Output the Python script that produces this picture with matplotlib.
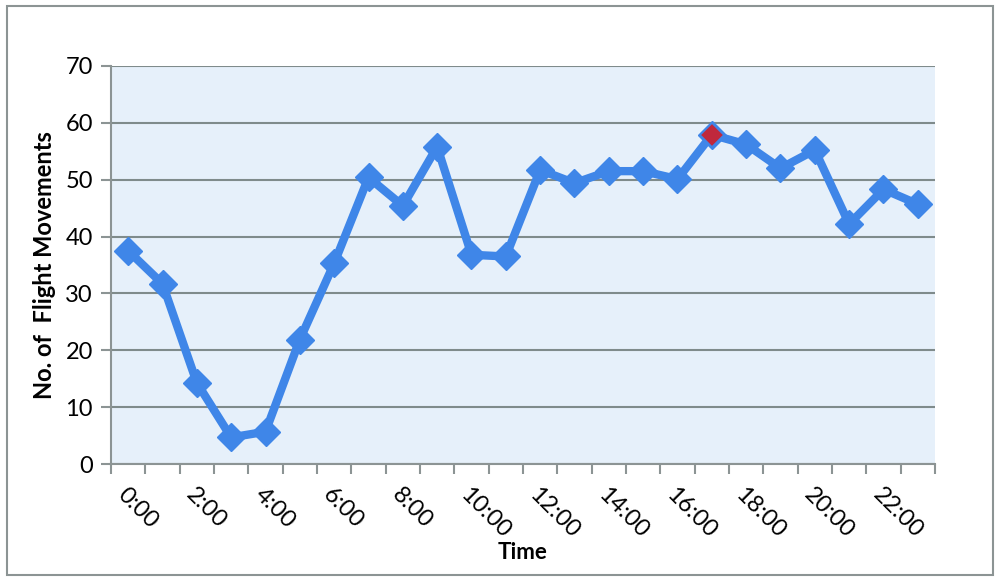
import numpy as np
import matplotlib.pyplot as plt
from matplotlib.patches import Rectangle

# Dados
hours = [f"{h}:00" for h in range(24)]
movements = [37.5, 31.7, 14.3, 4.7, 5.7, 21.9, 35.3, 50.4, 45.4, 55.8, 36.8, 36.5,
             51.7, 49.4, 51.5, 51.5, 50.1, 57.9, 56.2, 52.0, 55.2, 42.2, 48.3, 45.7]
peak_idx = 17
y_ticks = [0, 10, 20, 30, 40, 50, 60, 70]

plt.rcParams['font.family'] = ['Lato', 'DejaVu Sans']

fig = plt.figure(figsize=(10, 5.78), dpi=100)
fig.patches.append(Rectangle((0.007, 0.005), 0.986, 0.985, transform=fig.transFigure,
                             fill=False, edgecolor='#8c9494', linewidth=1.5))

ax = fig.add_axes([0.111, 0.197, 0.824, 0.689])
ax.set_facecolor('#e6f0fa')

x = np.arange(len(hours))
ax.plot(x, movements, color='#3f86e8', linewidth=6, marker='D', markersize=14,
        markerfacecolor='#3f86e8', markeredgecolor='#3f86e8', zorder=3)
ax.plot(x[peak_idx], movements[peak_idx], marker='D', markersize=12,
        markerfacecolor='#c0283c', markeredgecolor='#3f86e8', markeredgewidth=1.2, zorder=4)

ax.set_xlim(-0.5, len(hours) - 0.5)
ax.set_ylim(0, 70)
ax.set_yticks(y_ticks)
ax.set_yticklabels([str(v) for v in y_ticks], fontsize=17)

# marcas entre categorias, rótulos a cada 2 horas
ax.set_xticks(np.arange(-0.5, len(hours), 1), minor=True)
ax.set_xticks(x[::2])
ax.set_xticklabels(hours[::2], rotation=-45, ha='left', va='top',
                   rotation_mode='anchor', fontsize=17)
ax.tick_params(axis='x', which='major', length=0, pad=14)
ax.tick_params(axis='x', which='minor', length=7, color='#8c9494', width=1.5)
ax.tick_params(axis='y', length=7, color='#8c9494', width=1.5, pad=6)

ax.grid(True, axis='y', color='#7f8b8b', linewidth=1.5)
ax.set_axisbelow(True)
for s in ['top', 'right']:
    ax.spines[s].set_visible(False)
for s in ['left', 'bottom']:
    ax.spines[s].set_color('#8c9494')
    ax.spines[s].set_linewidth(1.5)

ax.set_xlabel('Time', fontsize=16, fontweight='bold', labelpad=0)
ax.set_ylabel('No. of  Flight Movements', fontsize=17, fontweight='bold', labelpad=7)

fig.savefig('out.png', dpi=100)
